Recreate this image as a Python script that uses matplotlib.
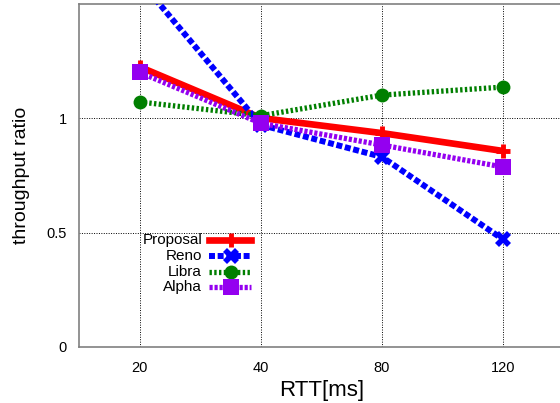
import matplotlib
matplotlib.use("Agg")
import matplotlib.pyplot as plt
from matplotlib.lines import Line2D

plt.rcParams['font.family'] = ['Liberation Sans', 'DejaVu Sans']

rtt_labels = ['20', '40', '80', '120']
proposal = [1.223, 1.0, 0.934, 0.856]
reno = [1.60, 0.97, 0.83, 0.47]
libra = [1.07, 1.01, 1.10, 1.135]
alpha = [1.199, 0.977, 0.882, 0.786]
series_names = ['Proposal', 'Reno', 'Libra', 'Alpha']
y_ticks = [0, 0.5, 1]
y_tick_labels = ['0', '0.5', '1']

styles = {
    'Proposal': dict(color='#ff0000', lw=4.8, ls='-', marker='+', ms=10, mew=3.5),
    'Reno': dict(color='#0000ff', lw=4.3, ls=(0, (1, 0.45)), marker='X', ms=11, mew=0),
    'Libra': dict(color='#007f00', lw=3.8, ls=(0, (0.45, 0.45)), marker='o', ms=10, mew=0),
    'Alpha': dict(color='#9400f0', lw=3.8, ls=(0, (0.6, 0.35)), marker='s', ms=11, mew=0),
}

fig = plt.figure(figsize=(5.6, 4.03), dpi=100)
ax = fig.add_axes([79.3 / 560, 56 / 403, (563.5 - 79.3) / 560, (347 - 3.5) / 403])

x = list(range(len(rtt_labels)))
data = {'Proposal': proposal, 'Reno': reno, 'Libra': libra, 'Alpha': alpha}
for name in series_names:
    st = styles[name]
    ax.plot(x, data[name], color=st['color'], lw=st['lw'], ls=st['ls'],
            marker=st['marker'], ms=st['ms'], mew=st['mew'],
            mec=st['color'], mfc=st['color'], dash_capstyle='butt',
            solid_capstyle='butt', zorder=3)

ax.set_xlim(-0.5, 3.5)
ax.set_ylim(0, 1.5)
ax.set_xticks(x)
ax.set_xticklabels(rtt_labels)
ax.set_yticks(y_ticks)
ax.set_yticklabels(y_tick_labels)
ax.tick_params(length=0, labelsize=10.5, colors='black')
ax.tick_params(axis='x', pad=10)
ax.tick_params(axis='y', pad=9)
ax.grid(True, color='black', ls=(0, (1, 1.5)), lw=0.7)
for s in ['left', 'bottom', 'top']:
    ax.spines[s].set_color('#808080')
    ax.spines[s].set_linewidth(1.2)
ax.spines['right'].set_visible(False)

ax.set_xlabel('RTT[ms]', fontsize=16, labelpad=4)
ax.set_ylabel('throughput ratio', fontsize=14, labelpad=12)

# legend (manual, right-aligned text)
trans = ax.transAxes
def ax_coords(px, py):
    return ((px - 79.3) / (563.5 - 79.3), (347 - py) / (347 - 3.5))

rows_y = [240, 256, 271.7, 286.7]
for name, py in zip(series_names, rows_y):
    st = styles[name]
    tx, ty = ax_coords(202, py)
    ax.text(tx, ty, name, transform=trans, ha='right', va='center', fontsize=11, zorder=5)
    x1, _ = ax_coords(209, py)
    x2, _ = ax_coords(251, py)
    xm, _ = ax_coords(231, py)
    ax.add_line(Line2D([x1, x2], [ty, ty], transform=trans, color=st['color'],
                       lw=st['lw'], ls=st['ls'], dash_capstyle='butt', zorder=5))
    ax.add_line(Line2D([xm], [ty], transform=trans, color=st['color'],
                       marker=st['marker'], ms=st['ms'], mew=st['mew'],
                       mec=st['color'], mfc=st['color'], ls='none', zorder=6))

fig.savefig('out.png', dpi=100)
